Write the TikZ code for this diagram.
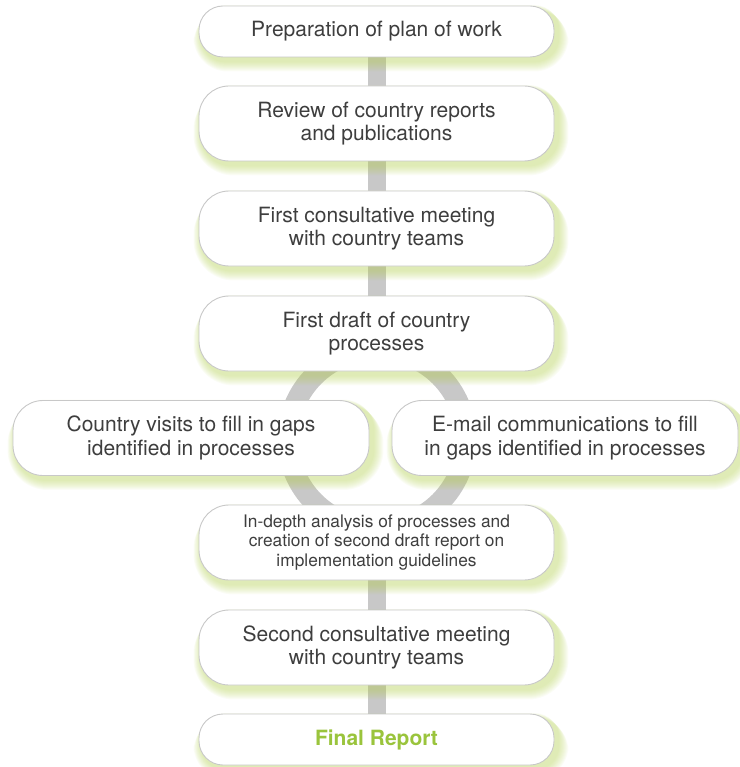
\documentclass[tikz,border=0pt]{standalone}
\usepackage{fontspec}
\setmainfont{TeX Gyre Heros}
\usetikzlibrary{calc}
\definecolor{txt}{RGB}{62,62,62}
\definecolor{boxline}{RGB}{200,200,200}
\definecolor{conn}{RGB}{200,200,200}
\definecolor{glowc}{RGB}{185,212,95}
\definecolor{finalc}{RGB}{154,196,60}
\pgfdeclarelayer{bgl}
\pgfdeclarelayer{glowl}
\pgfsetlayers{bgl,glowl,main}
\tikzset{
  stepbox/.style={draw=boxline, line width=0.9, fill=white, rounded corners=30,
    minimum width=355, minimum height=75, align=center, inner sep=0,
    font=\fontsize{21}{23.5}\selectfont, text=txt},
  shortbox/.style={stepbox, minimum height=51, rounded corners=24},
  smallfont/.style={font=\fontsize{17.3}{19.5}\selectfont},
  connbar/.style={draw=conn, line width=18},
  ringline/.style={draw=conn, line width=21},
}
\newcommand\glowit[2]{%
  \foreach \s in {1,...,10}{%
    \fill[glowc, fill opacity=0.06, rounded corners={#2+\s}]
      ([shift={(-\s*0.8+3,\s*0.5-1)}]#1.north west) rectangle ([shift={(\s+4,\s+4)}]#1.south east);
  }%
}
\begin{document}
\begin{tikzpicture}[x=1pt,y=-1pt]
\useasboundingbox (0,0) rectangle (739,767);
\node[shortbox] (b1) at (376.5,31.5) {Preparation of plan of work};
\node[stepbox] (b2) at (376.5,123.5) {Review of country reports\\and publications};
\node[stepbox] (b3) at (376.5,228.5) {First consultative meeting\\with country teams};
\node[stepbox] (b4) at (376.5,333.5) {First draft of country\\processes};
\node[stepbox, minimum width=356] (bl) at (191,438) {Country visits to fill in gaps\\identified in processes};
\node[stepbox, minimum width=346] (br) at (565,438) {E-mail communications to fill\\in gaps identified in processes};
\node[stepbox, smallfont] (b5) at (376.5,542.5) {In-depth analysis of processes and\\creation of second draft report on\\implementation guidelines};
\node[stepbox] (b6) at (376.5,647.5) {Second consultative meeting\\with country teams};
\node[shortbox, font=\fontsize{21}{23.5}\selectfont\bfseries, text=finalc] (b7) at (376.5,739.5) {Final Report};
\coordinate (rc) at (377,439);
\begin{pgfonlayer}{bgl}
  \draw[connbar] (b1.south) -- (b2.north);
  \draw[connbar] (b2.south) -- (b3.north);
  \draw[connbar] (b3.south) -- (b4.north);
  \draw[connbar] (b5.south) -- (b6.north);
  \draw[connbar] (b6.south) -- (b7.north);
  \draw[ringline] (rc) circle[radius=89];
\end{pgfonlayer}
\begin{pgfonlayer}{glowl}
  \glowit{b1}{24}
  \glowit{b2}{30}
  \glowit{b3}{30}
  \glowit{b4}{30}
  \glowit{bl}{30}
  \glowit{br}{30}
  \glowit{b5}{30}
  \glowit{b6}{30}
  \glowit{b7}{24}
\end{pgfonlayer}
\end{tikzpicture}
\end{document}
